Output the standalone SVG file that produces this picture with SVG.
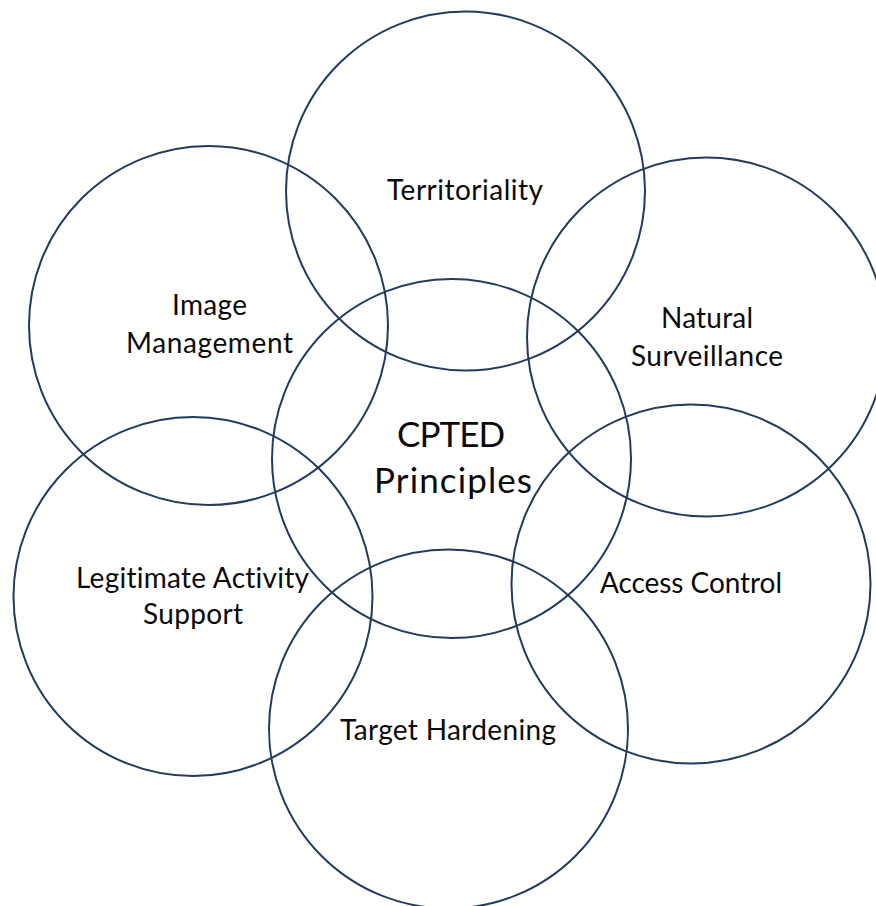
<svg xmlns="http://www.w3.org/2000/svg" width="876" height="906" viewBox="0 0 876 906">
  <style>
    .ring { fill: none; stroke: #243a5e; stroke-width: 2; }
    .lbl { font-family: Lato, "Open Sans", "Liberation Sans", sans-serif; font-size: 28px; fill: #0a0a0a; text-anchor: middle; font-variant-ligatures: none; }
    .big { font-size: 35px; }
  </style>
  <rect width="876" height="906" fill="#ffffff"/>
  <g id="connectors"></g>
  <g id="territoriality">
    <circle class="ring" cx="465.5" cy="191" r="179.5"/>
    <text class="lbl" x="465" y="200" textLength="156" lengthAdjust="spacing">Territoriality</text>
  </g>
  <g id="natural-surveillance">
    <circle class="ring" cx="706.5" cy="337" r="179.5"/>
    <text class="lbl" x="707" y="328" textLength="92" lengthAdjust="spacing">Natural</text>
    <text class="lbl" x="707" y="366" textLength="152" lengthAdjust="spacing">Surveillance</text>
  </g>
  <g id="access-control">
    <circle class="ring" cx="691" cy="584" r="179.5"/>
    <text class="lbl" x="691" y="593" textLength="182" lengthAdjust="spacing">Access Control</text>
  </g>
  <g id="target-hardening">
    <circle class="ring" cx="448.5" cy="729" r="179.5"/>
    <text class="lbl" x="448" y="740" textLength="216" lengthAdjust="spacing">Target Hardening</text>
  </g>
  <g id="legitimate-activity-support">
    <circle class="ring" cx="193" cy="596.5" r="179.5"/>
    <text class="lbl" x="192.5" y="588" textLength="233" lengthAdjust="spacing">Legitimate Activity</text>
    <text class="lbl" x="193" y="624" textLength="100" lengthAdjust="spacing">Support</text>
  </g>
  <g id="image-management">
    <circle class="ring" cx="208.5" cy="325.5" r="179.5"/>
    <text class="lbl" x="209.5" y="315" textLength="75" lengthAdjust="spacing">Image</text>
    <text class="lbl" x="209.5" y="353" textLength="167" lengthAdjust="spacing">Management</text>
  </g>
  <g id="cpted-principles">
    <circle class="ring" cx="451.5" cy="458.5" r="179.5"/>
    <text class="lbl big" x="451" y="447" textLength="108" lengthAdjust="spacing">CPTED</text>
    <text class="lbl big" x="453" y="493" textLength="158" lengthAdjust="spacing">Principles</text>
  </g>
</svg>
